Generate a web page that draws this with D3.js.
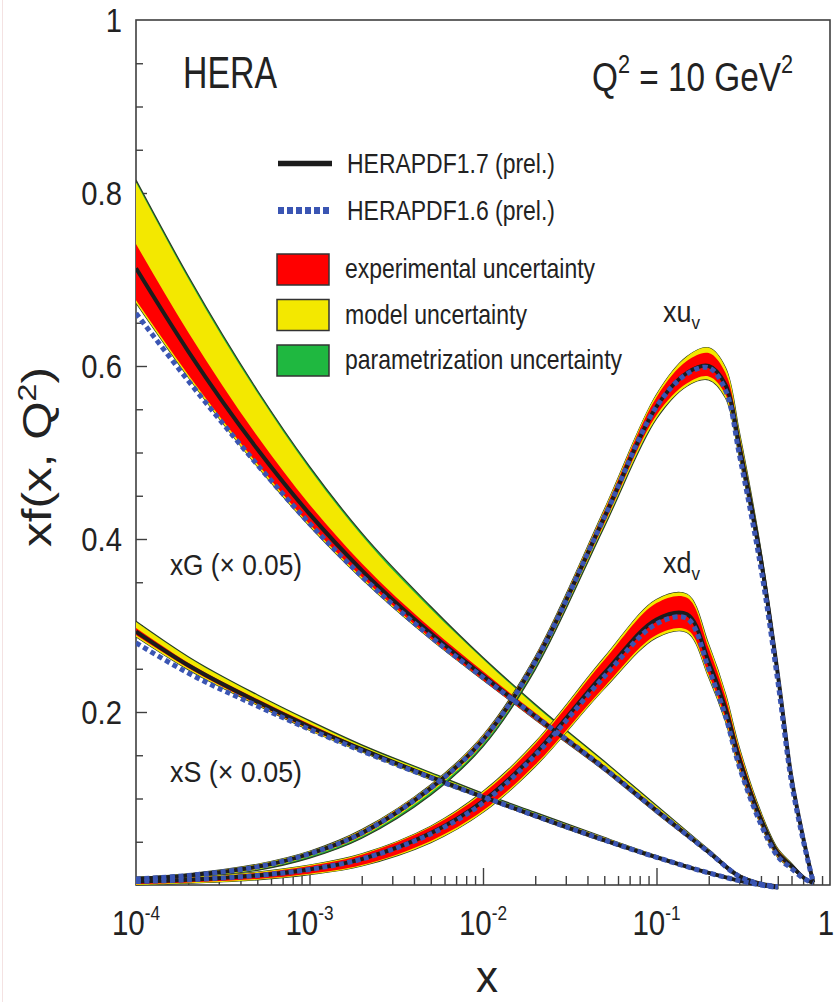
<!DOCTYPE html>
<html>
<head>
<meta charset="utf-8">
<script src="https://cdn.jsdelivr.net/npm/d3@7"></script>
<style>
  body { margin: 0; background: #fff; }
  svg { display: block; font-family: "Liberation Sans", Arial, sans-serif; }
</style>
</head>
<body>
<div id="chart"></div>
<script>
/**
 * Data
 */
// x grids
const xValence = [1e-4, 2e-4, 5e-4, 1e-3, 2e-3, 5e-3, 1e-2, 2e-2, 5e-2, 0.1, 0.15, 0.2, 0.25, 0.3, 0.4, 0.5, 0.6, 0.7, 0.8];
const xSea = [1e-4, 2e-4, 5e-4, 1e-3, 2e-3, 5e-3, 1e-2, 2e-2, 5e-2, 0.1, 0.2, 0.3, 0.4, 0.5];

// xG (x 0.05)
const gCentral = [0.713, 0.617, 0.504, 0.429, 0.364, 0.291, 0.242, 0.195, 0.135, 0.086, 0.038, 0.010, 0.001, -0.002];
const g16 = [0.661, 0.583, 0.486, 0.418, 0.357, 0.287, 0.240, 0.195, 0.135, 0.086, 0.038, 0.010, 0.001, -0.002];
const gExpUp = [0.028, 0.022, 0.015, 0.011, 0.008, 0.006, 0.005, 0.004, 0.003, 0.003, 0.002, 0.002, 0.002, 0.002];
const gExpDn = [0.037, 0.027, 0.017, 0.012, 0.008, 0.006, 0.005, 0.004, 0.003, 0.003, 0.002, 0.002, 0.002, 0.002];
const gModUp = [0.071, 0.062, 0.050, 0.041, 0.032, 0.022, 0.014, 0.008, 0.004, 0.002, 0.001, 0, 0, 0];
const gModDn = [0.003, 0.003, 0.003, 0.002, 0.002, 0.001, 0, 0, 0, 0, 0, 0, 0, 0];
const gParUp = [0.003, 0.003, 0.003, 0.003, 0.003, 0.003, 0.002, 0.002, 0.001, 0.001, 0, 0, 0, 0];
const gParDn = [0, 0, 0, 0, 0, 0, 0, 0, 0, 0, 0, 0, 0, 0];

// xS (x 0.05)
const sCentral = [0.293, 0.254, 0.212, 0.183, 0.157, 0.125, 0.102, 0.080, 0.052, 0.032, 0.014, 0.005, 0.000, -0.003];
const s16 = [0.280, 0.245, 0.207, 0.180, 0.155, 0.124, 0.102, 0.080, 0.052, 0.032, 0.014, 0.005, 0.000, -0.003];
const sExpUp = [0.004, 0.003, 0.003, 0.003, 0.002, 0.002, 0.002, 0.002, 0.002, 0.001, 0.001, 0.001, 0.001, 0.001];
const sExpDn = [0.004, 0.003, 0.003, 0.003, 0.002, 0.002, 0.002, 0.002, 0.002, 0.001, 0.001, 0.001, 0.001, 0.001];
const sModUp = [0.007, 0.006, 0.004, 0.003, 0.002, 0.002, 0.001, 0.001, 0.001, 0.001, 0, 0, 0, 0];
const sModDn = [0.002, 0.002, 0.001, 0.001, 0.001, 0.001, 0, 0, 0, 0, 0, 0, 0, 0];
const sParUp = [0.001, 0.001, 0.001, 0.001, 0.001, 0.001, 0.001, 0.001, 0, 0, 0, 0, 0, 0];
const sParDn = [0, 0, 0, 0, 0, 0, 0, 0, 0, 0, 0, 0, 0, 0];

// xu_v
const uCentral = [0.007, 0.011, 0.021, 0.036, 0.060, 0.112, 0.168, 0.258, 0.425, 0.553, 0.592, 0.600, 0.578, 0.508, 0.376, 0.244, 0.124, 0.055, 0.003];
const u16 = [0.007, 0.011, 0.021, 0.036, 0.060, 0.112, 0.168, 0.258, 0.425, 0.553, 0.591, 0.598, 0.572, 0.498, 0.366, 0.236, 0.119, 0.052, 0.003];
const uExpUp = [0.001, 0.001, 0.002, 0.002, 0.003, 0.003, 0.004, 0.005, 0.007, 0.011, 0.014, 0.015, 0.014, 0.011, 0.008, 0.006, 0.004, 0.002, 0.001];
const uExpDn = [0.001, 0.001, 0.002, 0.002, 0.003, 0.003, 0.004, 0.005, 0.007, 0.010, 0.012, 0.012, 0.011, 0.010, 0.008, 0.006, 0.004, 0.002, 0.001];
const uModUp = [0.001, 0.001, 0.001, 0.001, 0.001, 0.001, 0.001, 0.001, 0.002, 0.003, 0.005, 0.006, 0.006, 0.005, 0.003, 0.002, 0.001, 0.001, 0];
const uModDn = [0.001, 0.001, 0.001, 0.001, 0.001, 0.002, 0.001, 0.001, 0.002, 0.003, 0.003, 0.004, 0.004, 0.003, 0.002, 0.001, 0.001, 0.001, 0];
const uParUp = [0, 0, 0, 0, 0, 0, 0, 0, 0, 0, 0, 0, 0, 0, 0, 0, 0, 0, 0];
const uParDn = [0, 0, 0.001, 0.002, 0.002, 0.003, 0.003, 0.003, 0.002, 0.001, 0, 0, 0, 0, 0, 0, 0, 0, 0];

// xd_v
const dCentral = [0.004, 0.006, 0.011, 0.018, 0.030, 0.060, 0.097, 0.152, 0.245, 0.307, 0.313, 0.258, 0.204, 0.146, 0.076, 0.037, 0.022, 0.009, 0.002];
const d16 = [0.004, 0.006, 0.011, 0.018, 0.030, 0.059, 0.095, 0.150, 0.241, 0.302, 0.308, 0.250, 0.195, 0.137, 0.070, 0.033, 0.019, 0.008, 0.002];
const dExpUp = [0.002, 0.002, 0.003, 0.004, 0.005, 0.007, 0.009, 0.011, 0.015, 0.019, 0.019, 0.016, 0.013, 0.010, 0.006, 0.004, 0.002, 0.001, 0];
const dExpDn = [0.003, 0.003, 0.004, 0.005, 0.007, 0.009, 0.011, 0.013, 0.016, 0.018, 0.018, 0.015, 0.012, 0.010, 0.006, 0.004, 0.002, 0.001, 0];
const dModUp = [0.001, 0.001, 0.001, 0.001, 0.001, 0.001, 0.002, 0.002, 0.003, 0.004, 0.004, 0.004, 0.004, 0.003, 0.002, 0.001, 0.001, 0, 0];
const dModDn = [0.001, 0.001, 0.001, 0.001, 0.001, 0.002, 0.002, 0.002, 0.002, 0.003, 0.003, 0.003, 0.003, 0.002, 0.001, 0.001, 0.001, 0, 0];
const dParUp = [0, 0, 0, 0, 0, 0, 0, 0, 0, 0, 0, 0, 0, 0, 0, 0, 0, 0, 0];
const dParDn = [0, 0, 0, 0, 0, 0, 0, 0, 0, 0, 0, 0, 0, 0, 0, 0, 0, 0, 0];

// ticks and legend
const yTickValues = [0.2, 0.4, 0.6, 0.8, 1];
const yTickLabels = ['0.2', '0.4', '0.6', '0.8', '1'];
const xTickValues = [1e-4, 1e-3, 1e-2, 1e-1, 1];
const xTickExponents = ['-4', '-3', '-2', '-1', ''];
const legendLines = ['HERAPDF1.7 (prel.)', 'HERAPDF1.6 (prel.)'];
const legendBands = ['experimental uncertainty', 'model uncertainty', 'parametrization uncertainty'];

/**
 * Basic settings
 */
const colors = {exp: '#ff0000', mod: '#f3e800', par: '#1fb840', line: '#1c1c1c', v16: '#3a55b3'};
const W = 835, H = 1002;
const margin = {top: 20, right: 5, bottom: 117, left: 136};
const width = W - margin.left - margin.right;
const height = H - margin.top - margin.bottom;

const svg = d3.select('#chart')
  .append('svg')
  .attr('width', W)
  .attr('height', H);

// faint border at the far left of the original picture
svg.append('rect').attr('x', 2).attr('y', 0).attr('width', 1).attr('height', H).attr('fill', '#f4e2e2');

const g = svg.append('g')
  .attr('transform', `translate(${margin.left}, ${margin.top})`);

const x = d3.scaleLog().domain([1e-4, 1]).range([0, width]);
const y = d3.scaleLinear().domain([0, 1]).range([height, 0]);

/**
 * Frame and ticks
 */
g.append('rect')
  .attr('width', width).attr('height', height)
  .attr('fill', 'none').attr('stroke', '#3f3f3f').attr('stroke-width', 1.6);

const yMinor = d3.range(0.05, 1, 0.05).filter(v => Math.abs(v / 0.2 - Math.round(v / 0.2)) > 0.01);
g.append('g')
  .call(d3.axisLeft(y).tickValues(yMinor).tickSize(-7).tickFormat(''))
  .call(a => a.select('.domain').remove());
g.append('g')
  .call(d3.axisLeft(y).tickValues([0.2, 0.4, 0.6, 0.8]).tickSize(-11).tickFormat(''))
  .call(a => a.select('.domain').remove());

const xMinor = [];
[1e-4, 1e-3, 1e-2, 1e-1].forEach(d => d3.range(2, 10).forEach(k => xMinor.push(d * k)));
g.append('g')
  .attr('transform', `translate(0, ${height})`)
  .call(d3.axisBottom(x).tickValues(xMinor).tickSize(-9).tickFormat(''))
  .call(a => a.select('.domain').remove());
g.append('g')
  .attr('transform', `translate(0, ${height})`)
  .call(d3.axisBottom(x).tickValues([1e-3, 1e-2, 1e-1]).tickSize(-17).tickFormat(''))
  .call(a => a.select('.domain').remove());
g.selectAll('.tick line').attr('stroke', '#3f3f3f').attr('stroke-width', 1.4);

// tick labels
yTickValues.forEach((v, i) => {
  g.append('text')
    .attr('transform', `translate(-14, ${y(v) + 12}) scale(0.86, 1)`)
    .attr('text-anchor', 'end')
    .style('font-size', '34px')
    .attr('fill', '#222')
    .text(yTickLabels[i]);
});
xTickValues.forEach((v, i) => {
  const last = xTickExponents[i] === '';
  const t = g.append('text')
    .attr('transform', `translate(${last ? x(v) - 4 : x(v)}, ${height + 50}) scale(0.82, 1)`)
    .attr('text-anchor', 'middle')
    .style('font-size', '36px')
    .attr('fill', '#222');
  if (last) {
    t.text('1');
  } else {
    t.append('tspan').text('10');
    t.append('tspan').attr('dy', -15).style('font-size', '21px').text(xTickExponents[i]);
  }
});

/**
 * Curves
 */
g.append('clipPath').attr('id', 'plot-clip')
  .append('rect').attr('x', 0).attr('y', -20).attr('width', width).attr('height', height + 25);

const pdfs = [
  {grid: xSea, curve: d3.curveMonotoneX, c: gCentral, v16: g16, eU: gExpUp, eD: gExpDn, mU: gModUp, mD: gModDn, pU: gParUp, pD: gParDn},
  {grid: xSea, curve: d3.curveMonotoneX, c: sCentral, v16: s16, eU: sExpUp, eD: sExpDn, mU: sModUp, mD: sModDn, pU: sParUp, pD: sParDn},
  {grid: xValence, curve: d3.curveCatmullRom, c: uCentral, v16: u16, eU: uExpUp, eD: uExpDn, mU: uModUp, mD: uModDn, pU: uParUp, pD: uParDn},
  {grid: xValence, curve: d3.curveCatmullRom, c: dCentral, v16: d16, eU: dExpUp, eD: dExpDn, mU: dModUp, mD: dModDn, pU: dParUp, pD: dParDn}
];

const rows = pdfs.map(p => p.grid.map((xv, i) => ({
  x: xv,
  c: p.c[i],
  v16: p.v16[i],
  expLo: p.c[i] - p.eD[i],
  expHi: p.c[i] + p.eU[i],
  modLo: p.c[i] - p.eD[i] - p.mD[i],
  modHi: p.c[i] + p.eU[i] + p.mU[i],
  parLo: p.c[i] - p.eD[i] - p.mD[i] - p.pD[i],
  parHi: p.c[i] + p.eU[i] + p.mU[i] + p.pU[i]
})));

const plot = g.append('g').attr('clip-path', 'url(#plot-clip)');

const band = (lo, hi, curve) => d3.area()
  .x(d => x(d.x))
  .y0(d => y(d[lo]))
  .y1(d => y(d[hi]))
  .curve(curve);

rows.forEach((r, k) => {
  const curve = pdfs[k].curve;
  plot.append('path').datum(r)
    .attr('d', band('parLo', 'parHi', curve))
    .attr('fill', colors.par).attr('stroke', '#2d3a22').attr('stroke-width', 1.2);
  plot.append('path').datum(r)
    .attr('d', band('modLo', 'modHi', curve))
    .attr('fill', colors.mod);
  plot.append('path').datum(r)
    .attr('d', band('expLo', 'expHi', curve))
    .attr('fill', colors.exp);
});

const line = (key, curve) => d3.line()
  .x(d => x(d.x))
  .y(d => y(d[key]))
  .curve(curve);

rows.forEach((r, k) => {
  plot.append('path').datum(r)
    .attr('d', line('c', pdfs[k].curve))
    .attr('fill', 'none').attr('stroke', colors.line).attr('stroke-width', 4);
});
rows.forEach((r, k) => {
  plot.append('path').datum(r)
    .attr('d', line('v16', pdfs[k].curve))
    .attr('fill', 'none').attr('stroke', colors.v16).attr('stroke-width', 5)
    .attr('stroke-dasharray', '5,3.5');
});

/**
 * Texts
 */
const label = (px, py, size, len, parts) => {
  const t = svg.append('text')
    .attr('x', px).attr('y', py)
    .style('font-size', size + 'px')
    .attr('fill', '#222');
  parts.forEach(p => {
    const s = t.append('tspan').text(p.text);
    if (p.dy) s.attr('dy', p.dy);
    if (p.size) s.style('font-size', p.size + 'px');
  });
  if (len) t.attr('textLength', len).attr('lengthAdjust', 'spacingAndGlyphs');
  return t;
};

label(183, 88, 44, 94, [{text: 'HERA'}]);
label(592, 91, 40, 201, [
  {text: 'Q'}, {text: '2', dy: -18, size: 26}, {text: ' = 10 GeV', dy: 18, size: 40}, {text: '2', dy: -18, size: 26}
]);
label(663, 322, 30, 37, [{text: 'xu'}, {text: 'v', dy: 7, size: 19}]);
label(663, 573, 30, 37, [{text: 'xd'}, {text: 'v', dy: 7, size: 19}]);
label(170, 575, 29, 132, [{text: 'xG (\u00d7 0.05)'}]);
label(170, 782, 29, 132, [{text: 'xS (\u00d7 0.05)'}]);

// axis titles
svg.append('text')
  .attr('transform', 'translate(51, 457) rotate(-90)')
  .attr('text-anchor', 'middle')
  .attr('textLength', 180).attr('lengthAdjust', 'spacingAndGlyphs')
  .style('font-size', '40px').attr('fill', '#222')
  .call(t => {
    t.append('tspan').text('xf(x, Q');
    t.append('tspan').attr('dy', -15).style('font-size', '26px').text('2');
    t.append('tspan').attr('dy', 15).text(')');
  });
svg.append('text')
  .attr('x', 487).attr('y', 992)
  .attr('text-anchor', 'middle')
  .style('font-size', '44px').attr('fill', '#222')
  .text('x');

/**
 * Legend
 */
const legend = svg.append('g');
const lineWidths = [208, 208];
legendLines.forEach((txt, i) => {
  const ly = 163.5 + i * 47;
  legend.append('line')
    .attr('x1', 278).attr('x2', 332).attr('y1', ly).attr('y2', ly)
    .attr('stroke', i === 0 ? colors.line : colors.v16)
    .attr('stroke-width', i === 0 ? 5.5 : 7)
    .attr('stroke-dasharray', i === 0 ? null : '6,3');
  label(347, ly + 9.5, 28, lineWidths[i], [{text: txt}]);
});
const bandColors = [colors.exp, colors.mod, colors.par];
const bandWidths = [250, 182, 277];
legendBands.forEach((txt, i) => {
  const top = 254 + i * 45.5;
  legend.append('rect')
    .attr('x', 277).attr('y', top).attr('width', 52).attr('height', 31)
    .attr('fill', bandColors[i]).attr('stroke', '#333').attr('stroke-width', 1.5);
  label(345, top + 24, 28, bandWidths[i], [{text: txt}]);
});
</script>
</body>
</html>
